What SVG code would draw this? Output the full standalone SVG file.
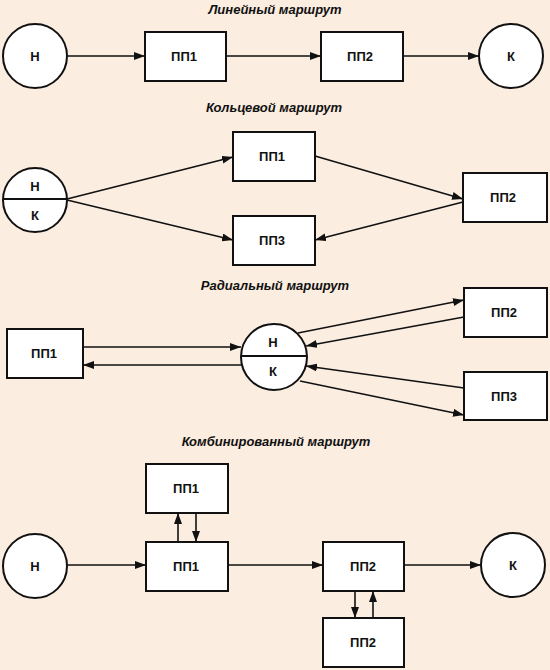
<svg xmlns="http://www.w3.org/2000/svg" width="550" height="670" viewBox="0 0 550 670">
<style>
.bg{fill:#FBEDE0}
.box{fill:#FFFFFF;stroke:#111;stroke-width:2}
.cir{fill:#FFFFFF;stroke:#111;stroke-width:2}
.div{stroke:#111;stroke-width:2}
.lbl{font-family:"Liberation Sans",Arial,sans-serif;font-weight:bold;font-size:13px;fill:#111;text-anchor:middle}
.ttl{font-family:"Liberation Sans",Arial,sans-serif;font-weight:bold;font-style:italic;font-size:13px;fill:#111;text-anchor:middle}
.con line{stroke:#111;stroke-width:1.6;fill:none;marker-end:url(#ah)}
</style>
<defs>
<marker id="ah" markerUnits="userSpaceOnUse" markerWidth="11" markerHeight="8" refX="11" refY="4" orient="auto">
<path d="M0,0 L11,4 L0,8 Z" fill="#111"/>
</marker>
</defs>
<rect class="bg" x="0" y="0" width="550" height="670"/>

<!-- Titles -->
<text class="ttl" x="275" y="14">Линейный маршрут</text>
<text class="ttl" x="274" y="112">Кольцевой маршрут</text>
<text class="ttl" x="275" y="290">Радиальный маршрут</text>
<text class="ttl" x="276" y="446">Комбинированный маршрут</text>

<!-- Section 1: linear -->
<g id="lin-n"><circle class="cir" cx="35" cy="56" r="32"/><text class="lbl" x="35" y="61">Н</text></g>
<g id="lin-pp1"><rect class="box" x="145" y="32" width="81" height="49"/><text class="lbl" x="184" y="61">ПП1</text></g>
<g id="lin-pp2"><rect class="box" x="321" y="32" width="82" height="49"/><text class="lbl" x="360" y="61">ПП2</text></g>
<g id="lin-k"><circle class="cir" cx="511" cy="56" r="32"/><text class="lbl" x="511" y="61">К</text></g>

<!-- Section 2: ring -->
<g id="ring-nk"><circle class="cir" cx="35" cy="200" r="32"/><line class="div" x1="3" y1="199" x2="67" y2="199"/><text class="lbl" x="35" y="191">Н</text><text class="lbl" x="35" y="220">К</text></g>
<g id="ring-pp1"><rect class="box" x="233" y="132" width="82" height="49"/><text class="lbl" x="272" y="161">ПП1</text></g>
<g id="ring-pp2"><rect class="box" x="463" y="173" width="84" height="49"/><text class="lbl" x="503" y="202">ПП2</text></g>
<g id="ring-pp3"><rect class="box" x="233" y="216" width="82" height="49"/><text class="lbl" x="272" y="245">ПП3</text></g>

<!-- Section 3: radial -->
<g id="rad-pp1"><rect class="box" x="7" y="329" width="76" height="49"/><text class="lbl" x="44" y="358">ПП1</text></g>
<g id="rad-nk"><circle class="cir" cx="274" cy="357" r="33"/><line class="div" x1="241" y1="356" x2="307" y2="356"/><text class="lbl" x="273" y="347">Н</text><text class="lbl" x="273" y="376">К</text></g>
<g id="rad-pp2"><rect class="box" x="464" y="288" width="83" height="49"/><text class="lbl" x="504" y="317">ПП2</text></g>
<g id="rad-pp3"><rect class="box" x="464" y="372" width="83" height="48"/><text class="lbl" x="504" y="401">ПП3</text></g>

<!-- Section 4: combined -->
<g id="cmb-n"><circle class="cir" cx="35" cy="566" r="32"/><text class="lbl" x="35" y="571">Н</text></g>
<g id="cmb-pp1-top"><rect class="box" x="146" y="464" width="82" height="49"/><text class="lbl" x="186" y="493">ПП1</text></g>
<g id="cmb-pp1"><rect class="box" x="146" y="542" width="82" height="49"/><text class="lbl" x="186" y="571">ПП1</text></g>
<g id="cmb-pp2"><rect class="box" x="323" y="542" width="81" height="49"/><text class="lbl" x="363" y="571">ПП2</text></g>
<g id="cmb-pp2-bot"><rect class="box" x="323" y="618" width="81" height="49"/><text class="lbl" x="363" y="647">ПП2</text></g>
<g id="cmb-k"><circle class="cir" cx="513" cy="565" r="32"/><text class="lbl" x="513" y="570">К</text></g>

<!-- Connectors -->
<g id="connectors" class="con">
<line x1="67" y1="56" x2="145" y2="56"/>
<line x1="226" y1="56" x2="321" y2="56"/>
<line x1="403" y1="56" x2="479" y2="56"/>

<line x1="67" y1="199" x2="233" y2="157"/>
<line x1="67" y1="200" x2="233" y2="240"/>
<line x1="315" y1="156" x2="463" y2="199"/>
<line x1="463" y1="202" x2="315" y2="240"/>

<line x1="83" y1="347" x2="241" y2="347"/>
<line x1="241" y1="365" x2="83" y2="365"/>
<line x1="298" y1="333" x2="464" y2="300"/>
<line x1="464" y1="317" x2="306" y2="346"/>
<line x1="464" y1="388" x2="306" y2="366"/>
<line x1="300" y1="381" x2="464" y2="415"/>

<line x1="67" y1="565" x2="146" y2="565"/>
<line x1="228" y1="565" x2="323" y2="565"/>
<line x1="404" y1="565" x2="481" y2="565"/>
<line x1="178" y1="542" x2="178" y2="513"/>
<line x1="196" y1="513" x2="196" y2="542"/>
<line x1="355" y1="591" x2="355" y2="618"/>
<line x1="373" y1="618" x2="373" y2="591"/>
</g>
</svg>
